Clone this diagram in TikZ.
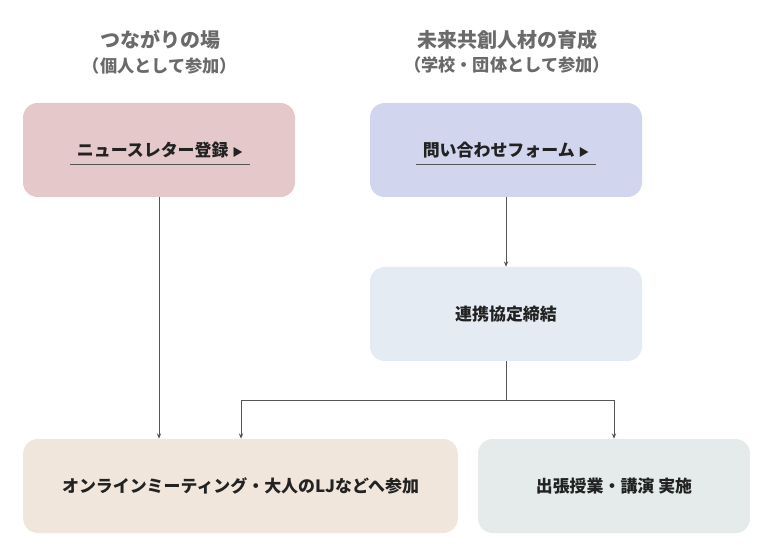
\documentclass[tikz,border=0pt]{standalone}
\usepackage{fontspec}
\setmainfont{Noto Sans CJK JP}
\usepackage{xcolor}
\usepackage{tikz}
\usetikzlibrary{calc, arrows.meta, positioning}

\definecolor{headgray}{HTML}{6A6A6A}
\definecolor{textdark}{HTML}{222222}
\definecolor{linegray}{HTML}{555555}
\definecolor{pinkbox}{HTML}{E5C8C9}
\definecolor{bluebox}{HTML}{D1D5EE}
\definecolor{palebox}{HTML}{E5EBF2}
\definecolor{sandbox}{HTML}{F0E6DB}
\definecolor{mintbox}{HTML}{E4EBEA}

\begin{document}
\begin{tikzpicture}[x=0.75pt, y=-0.75pt,
			card/.style={rounded corners=11pt, minimum height=70.5pt, inner sep=0pt, text=textdark, font=\bfseries\fontsize{12.7}{14}\selectfont},
			smallcard/.style={card, minimum width=204pt},
			widecard/.style={card, minimum width=326pt},
			heading/.style={text=headgray, font=\bfseries\fontsize{15}{17}\selectfont, inner sep=0pt},
			subheading/.style={text=headgray, font=\bfseries\fontsize{12.9}{15}\selectfont, inner sep=0pt},
			linklabel/.style={text=textdark, font=\bfseries\fontsize{12.7}{14}\selectfont, inner xsep=5pt, inner ysep=4.8pt},
			flow/.style={draw=linegray, line width=0.6pt, -{Stealth[length=4pt, width=3.2pt]}},
			flowline/.style={draw=linegray, line width=0.6pt}
			]
			\useasboundingbox (0,0) rectangle (771,559);
			% column headings
			\node [heading](h1) at (160,40) {つながりの場};
			\node [subheading](s1) at (160,66) {（個人として参加）};
			\node [heading](h2) at (507,40) {未来共創人材の育成};
			\node [subheading](s2) at (507,65) {（学校・団体として参加）};
			% cards
			\node [smallcard, fill=pinkbox](news) at (159,150) {};
			\node [smallcard, fill=bluebox](form) at (506,150) {};
			\node [smallcard, fill=palebox](pact) at (506,314) {連携協定締結};
			\node [widecard, fill=sandbox](online) at (240.5,486) {オンラインミーティング・大人のLJなどへ参加};
			\node [smallcard, fill=mintbox](visit) at (614,486) {出張授業・講演 実施};
			% links with underline
			\node [linklabel](newslink) at (160,150) {ニュースレター登録 {\fontsize{8}{8}\selectfont ▶}};
			\node [linklabel](formlink) at (506,150) {問い合わせフォーム {\fontsize{8}{8}\selectfont ▶}};
			\draw[line width=0.6pt, linegray] (newslink.south west) -- (newslink.south east);
			\draw[line width=0.6pt, linegray] (formlink.south west) -- (formlink.south east);
			% connectors
			\coordinate (split) at (pact.south |- 0,400);
			\draw[flow] (news.south) -- (news.south |- online.north);
			\draw[flow] (form.south) -- (pact.north);
			\draw[flowline] (pact.south) -- (split);
			\draw[flow] (split) -| ($(online.north)+(0.5,0)$);
			\draw[flow] (split) -| (visit.north);
		\end{tikzpicture}
\end{document}
